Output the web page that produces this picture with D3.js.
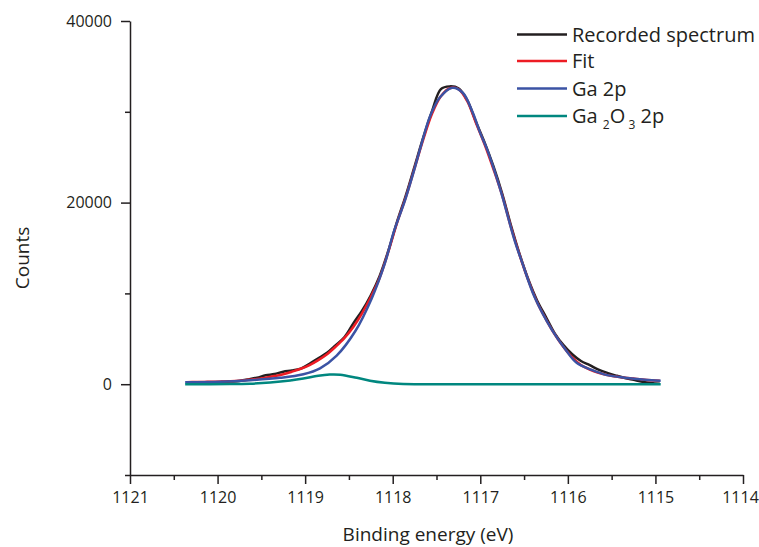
<!DOCTYPE html>
<html>
<head>
<meta charset="utf-8">
<script src="https://cdn.jsdelivr.net/npm/d3@7"></script>
<style>
    body { margin: 0; background: #fff; }
    svg { font-family: "Open Sans", sans-serif; }
</style>
</head>
<body>
<div id="chart"></div>
<script>
// binding energy grid for recorded spectrum and fit (eV)
const energyGrid = [1120.35, 1120.25, 1120.15, 1120.05, 1119.95, 1119.85, 1119.75, 1119.65, 1119.55, 1119.45,
    1119.35, 1119.25, 1119.15, 1119.05, 1118.95, 1118.85, 1118.75, 1118.65, 1118.55, 1118.45,
    1118.35, 1118.25, 1118.15, 1118.05, 1117.95, 1117.85, 1117.75, 1117.65, 1117.55, 1117.45,
    1117.35, 1117.25, 1117.15, 1117.05, 1116.95, 1116.85, 1116.75, 1116.65, 1116.55, 1116.45,
    1116.35, 1116.25, 1116.15, 1116.05, 1115.95, 1115.85, 1115.75, 1115.65, 1115.55, 1115.45,
    1115.35, 1115.25, 1115.15, 1115.05, 1114.95];

const recorded = [180, 210, 160, 40, 240, 290, 360, 520, 720, 980,
    1120, 1380, 1500, 1720, 2250, 2850, 3450, 4300, 5200, 6700,
    8100, 9800, 11900, 14700, 17900, 20800, 24000, 27200, 30100, 32500,
    32800, 32600, 31300, 28900, 26600, 24000, 21000, 17500, 14300, 11500,
    9200, 7400, 5600, 4300, 3300, 2550, 2100, 1600, 1250, 950,
    680, 480, 280, 130, 40];

const fit = [225, 240, 255, 270, 290, 330, 390, 480, 580, 720,
    900, 1100, 1380, 1700, 2100, 2650, 3300, 4150, 5100, 6300,
    7800, 9600, 11700, 14600, 17800, 20600, 23800, 27000, 29800, 31700,
    32600, 32500, 31200, 28800, 26400, 23700, 20800, 17300, 14200, 11400,
    9000, 7150, 5500, 4100, 2950, 2100, 1620, 1260, 1000, 850,
    720, 620, 520, 440, 380];

// Ga 2p component
const ga2pEnergy = [1120.37, 1119.97, 1119.63, 1119.29, 1119.02, 1118.83, 1118.64, 1118.43, 1118.24, 1118.09,
    1117.99, 1117.86, 1117.75, 1117.67, 1117.57, 1117.46, 1117.32, 1117.20, 1117.09, 1117.00,
    1116.92, 1116.77, 1116.61, 1116.52, 1116.38, 1116.18, 1116.03, 1115.90, 1115.72, 1115.55,
    1115.35, 1115.12, 1114.94];
const ga2pCounts = [220, 275, 441, 700, 1100, 1750, 3150, 5800, 9450, 13300,
    16700, 20250, 23750, 26500, 29600, 31600, 32650, 32100, 30000, 27650,
    25800, 21400, 15900, 13350, 9600, 5950, 3850, 2350, 1550, 1000,
    720, 500, 390];

// Ga2O3 2p component
const ga2o3Energy = [1120.37, 1119.86, 1119.63, 1119.40, 1119.17, 1119.02, 1118.85, 1118.72, 1118.60, 1118.41,
    1118.26, 1118.09, 1117.88, 1117.70, 1117.46, 1117.00, 1116.00, 1114.94];
const ga2o3Counts = [0, 10, 55, 187, 408, 620, 930, 1065, 1045, 700,
    390, 165, 25, 5, 0, 0, 0, 0];

const xTicks = [1121, 1120, 1119, 1118, 1117, 1116, 1115, 1114];
const xMinorTicks = [1120.5, 1119.5, 1118.5, 1117.5, 1116.5, 1115.5, 1114.5];
const yTicks = [0, 20000, 40000];
const yMinorTicks = [-10000, 10000, 30000];

const seriesNames = ["Recorded spectrum", "Fit", "Ga 2p", "Ga2O3 2p"];
const seriesColors = ["#231f20", "#ed1c24", "#3b53a4", "#00877f"];

const width = 759, height = 547;
const svg = d3.select("#chart").append("svg")
    .attr("width", width)
    .attr("height", height);

const x = d3.scaleLinear().domain([1121, 1114]).range([130, 743]);
const y = d3.scaleLinear().domain([-10000, 40000]).range([475, 21]);

// axes
const xAxis = svg.append("g")
    .attr("transform", `translate(0,${y(-10000)})`)
    .call(d3.axisBottom(x).tickValues(xTicks).tickFormat(d3.format("d"))
        .tickSize(9).tickSizeOuter(0).tickPadding(8));
// keep the last label inside the picture
xAxis.selectAll(".tick text").filter(d => d === 1114).attr("dx", -3);
svg.append("g")
    .attr("transform", `translate(0,${y(-10000)})`)
    .call(d3.axisBottom(x).tickValues(xMinorTicks).tickFormat("").tickSize(5))
    .call(g => g.select(".domain").remove());

const yAxis = svg.append("g")
    .attr("transform", `translate(${x(1121)},0)`)
    .call(d3.axisLeft(y).tickValues(yTicks).tickFormat(d3.format("d"))
        .tickSize(9).tickSizeOuter(0).tickPadding(9));
svg.append("g")
    .attr("transform", `translate(${x(1121)},0)`)
    .call(d3.axisLeft(y).tickValues(yMinorTicks).tickFormat("").tickSize(5))
    .call(g => g.select(".domain").remove());

svg.selectAll(".domain, .tick line")
    .attr("stroke", "#231f20")
    .attr("stroke-width", 1.5);
svg.selectAll(".tick text")
    .attr("fill", "#231f20")
    .style("font-size", "16px")
    .style("font-family", "'Open Sans', sans-serif");

// axis titles
svg.append("text")
    .attr("x", 428)
    .attr("y", 541)
    .attr("text-anchor", "middle")
    .attr("fill", "#231f20")
    .style("font-size", "19px")
    .text("Binding energy (eV)");

svg.append("text")
    .attr("transform", "translate(29,258) rotate(-90)")
    .attr("text-anchor", "middle")
    .attr("fill", "#231f20")
    .style("font-size", "19px")
    .text("Counts");

// curves
const line = d3.line()
    .x(d => x(d[0]))
    .y(d => y(d[1]))
    .curve(d3.curveCatmullRom.alpha(0.5));

const series = [
    energyGrid.map((e, i) => [e, recorded[i]]),
    energyGrid.map((e, i) => [e, fit[i]]),
    ga2pEnergy.map((e, i) => [e, ga2pCounts[i]]),
    ga2o3Energy.map((e, i) => [e, ga2o3Counts[i]])
];

series.forEach((s, i) => {
    svg.append("path")
        .datum(s)
        .attr("fill", "none")
        .attr("stroke", seriesColors[i])
        .attr("stroke-width", 2.5)
        .attr("stroke-linejoin", "round")
        .attr("d", line);
});

// legend
const legendY = [34.5, 61, 88.5, 116];
const legend = svg.append("g");
seriesNames.forEach((name, i) => {
    legend.append("line")
        .attr("x1", 517).attr("x2", 567)
        .attr("y1", legendY[i]).attr("y2", legendY[i])
        .attr("stroke", seriesColors[i])
        .attr("stroke-width", 2.5);
    const t = legend.append("text")
        .attr("x", 572)
        .attr("y", legendY[i])
        .attr("dy", "0.35em")
        .attr("fill", "#231f20")
        .style("font-size", "20px");
    if (name === "Ga2O3 2p") {
        t.append("tspan").text("Ga ");
        t.append("tspan").text("2").style("font-size", "12px").attr("dy", 6);
        t.append("tspan").text("O").attr("dy", -6);
        t.append("tspan").text(" 3").style("font-size", "12px").attr("dy", 6);
        t.append("tspan").text(" 2p").attr("dy", -6);
    } else {
        t.text(name);
    }
});
</script>
</body>
</html>
